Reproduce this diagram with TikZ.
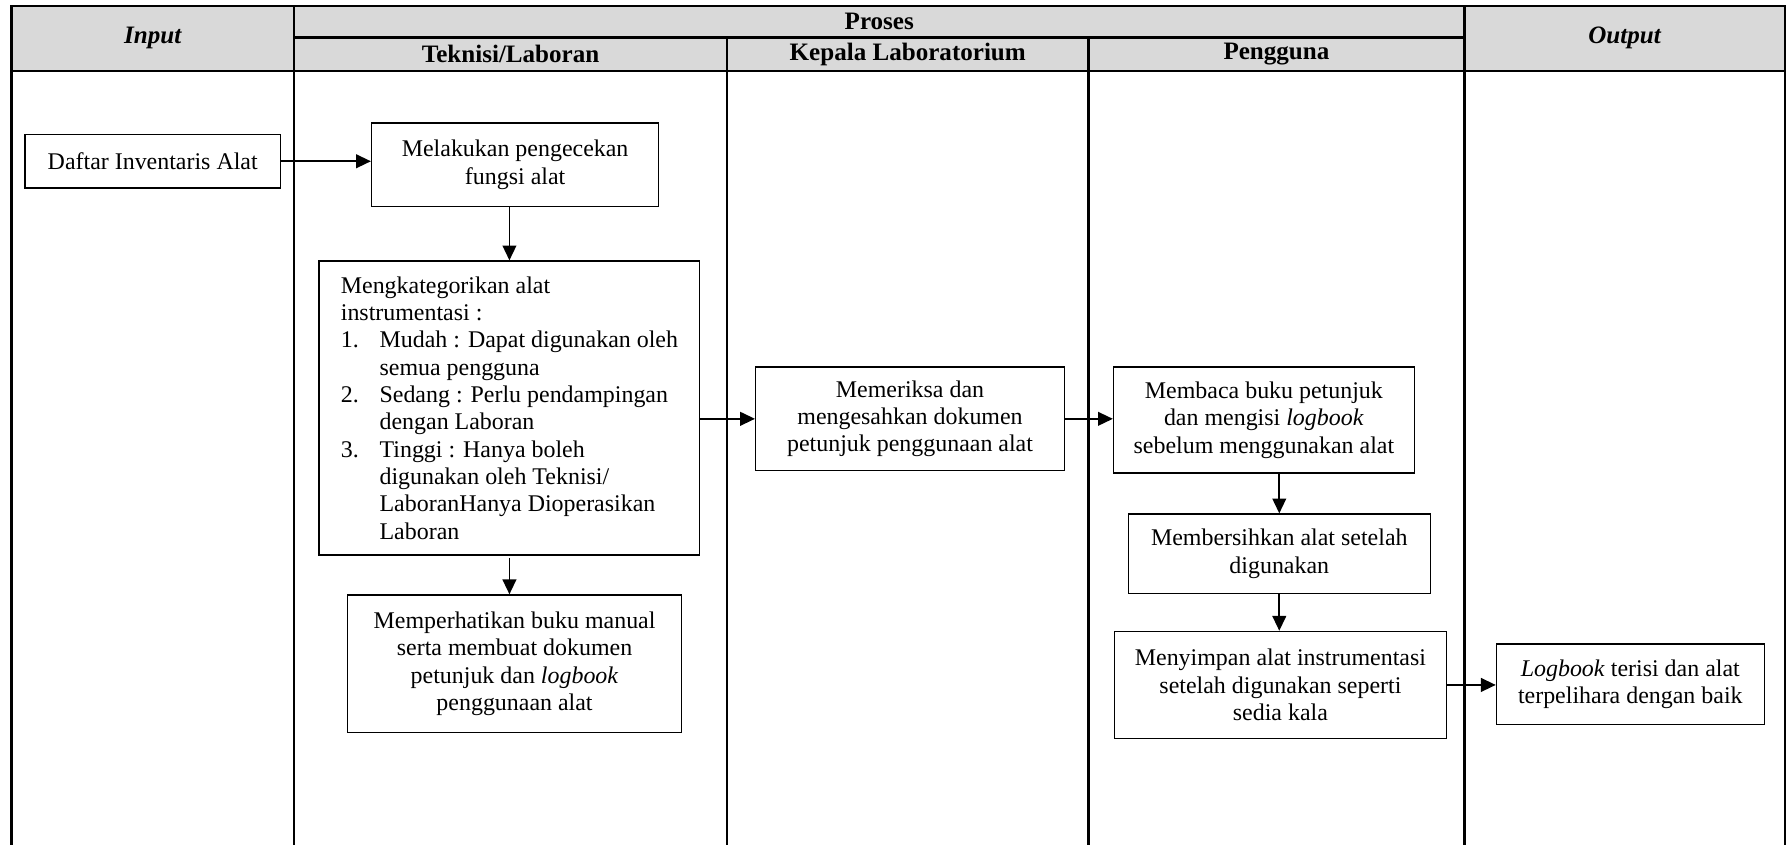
\documentclass[tikz,border=0pt]{standalone}
\usepackage{fontspec}
\setmainfont{Liberation Serif}
\usetikzlibrary{arrows.meta}
\definecolor{hdrgray}{HTML}{D9D9D9}
\tikzset{
  box/.style={draw, line width=1.1pt, rectangle, inner sep=0pt, align=center,
    font=\fontsize{21}{24}\selectfont},
  hdr/.style={font=\fontsize{22}{24}\selectfont\bfseries, inner sep=0pt},
  tline/.style={line width=2pt},
  flow/.style={line width=1.6pt, -{Triangle[length=13pt,width=12pt]}},
}
\begin{document}
\begin{tikzpicture}[x=1pt,y=-1pt]
\useasboundingbox (0,0) rectangle (1568,741);
% header
\fill[hdrgray] (10,5) rectangle (1566,62);
\draw[tline] (10,741) -- (10,5) -- (1566,5) -- (1566,741);
\draw[tline] (258,5) -- (258,741);
\draw[tline] (1285,5) -- (1285,741);
\draw[tline] (638,33) -- (638,741);
\draw[tline] (955,33) -- (955,741);
\draw[tline] (258,33) -- (1285,33);
\draw[tline] (10,62) -- (1566,62);
\node[hdr] (hin) at (134,33) {\itshape Input};
\node[hdr] (hpro) at (771.5,19) {Proses};
\node[hdr] (htek) at (448,47.5) {Teknisi/Laboran};
\node[hdr] (hkep) at (796.5,47.5) {Kepala Laboratorium};
\node[hdr] (hpen) at (1120,47.5) {Pengguna};
\node[hdr] (hout) at (1425.5,33) {\itshape Output};
% boxes
\node[box, minimum width=224pt, minimum height=47pt] (daftar) at (134,141.5) {Daftar Inventaris Alat};
\node[box, minimum width=252pt, minimum height=73pt] (cek) at (452,144.5) {Melakukan pengecekan\\fungsi alat};
\node[box, minimum width=334pt, minimum height=258pt, align=left] (kat) at (447,358) {Mengkategorikan alat\\
instrumentasi :\\
\makebox[34pt][l]{1.}Mudah : Dapat digunakan oleh\\
\hspace*{34pt}semua pengguna\\
\makebox[34pt][l]{2.}Sedang : Perlu pendampingan\\
\hspace*{34pt}dengan Laboran\\
\makebox[34pt][l]{3.}Tinggi : Hanya boleh\\
\hspace*{34pt}digunakan oleh Teknisi/\\
\hspace*{34pt}LaboranHanya Dioperasikan\\
\hspace*{34pt}Laboran};
\node[box, minimum width=293pt, minimum height=121pt] (perhati) at (451.5,582.5) {Memperhatikan buku manual\\serta membuat dokumen\\petunjuk dan \textit{logbook}\\penggunaan alat};
\node[box, minimum width=271pt, minimum height=91pt] (periksa) at (798.5,367.5) {Memeriksa dan\\mengesahkan dokumen\\petunjuk penggunaan alat};
\node[box, minimum width=264pt, minimum height=93pt] (baca) at (1109,368.5) {Membaca buku petunjuk\\dan mengisi \textit{logbook}\\sebelum menggunakan alat};
\node[box, minimum width=265pt, minimum height=70pt] (bersih) at (1122.5,486) {Membersihkan alat setelah\\digunakan};
\node[box, minimum width=291pt, minimum height=94pt] (simpan) at (1123.5,601) {Menyimpan alat instrumentasi\\setelah digunakan seperti\\sedia kala};
\node[box, minimum width=235pt, minimum height=71pt] (logb) at (1430.5,600.5) {\textit{Logbook} terisi dan alat\\terpelihara dengan baik};
% connectors
\draw[flow] (daftar.east) -- (daftar.east -| cek.west);
\draw[flow] (cek.south -| kat.north) -- (kat.north);
\draw[flow, shorten <=2pt] (kat.south) -- (kat.south |- perhati.north);
\draw[flow] (periksa.west -| kat.east) -- (periksa.west);
\draw[flow] (periksa.east) -- (periksa.east -| baca.west);
\draw[flow] (bersih.north |- baca.south) -- (bersih.north);
\draw[flow] (bersih.south) -- (bersih.south |- simpan.north);
\draw[flow] (simpan.east) -- (simpan.east -| logb.west);
\end{tikzpicture}
\end{document}
